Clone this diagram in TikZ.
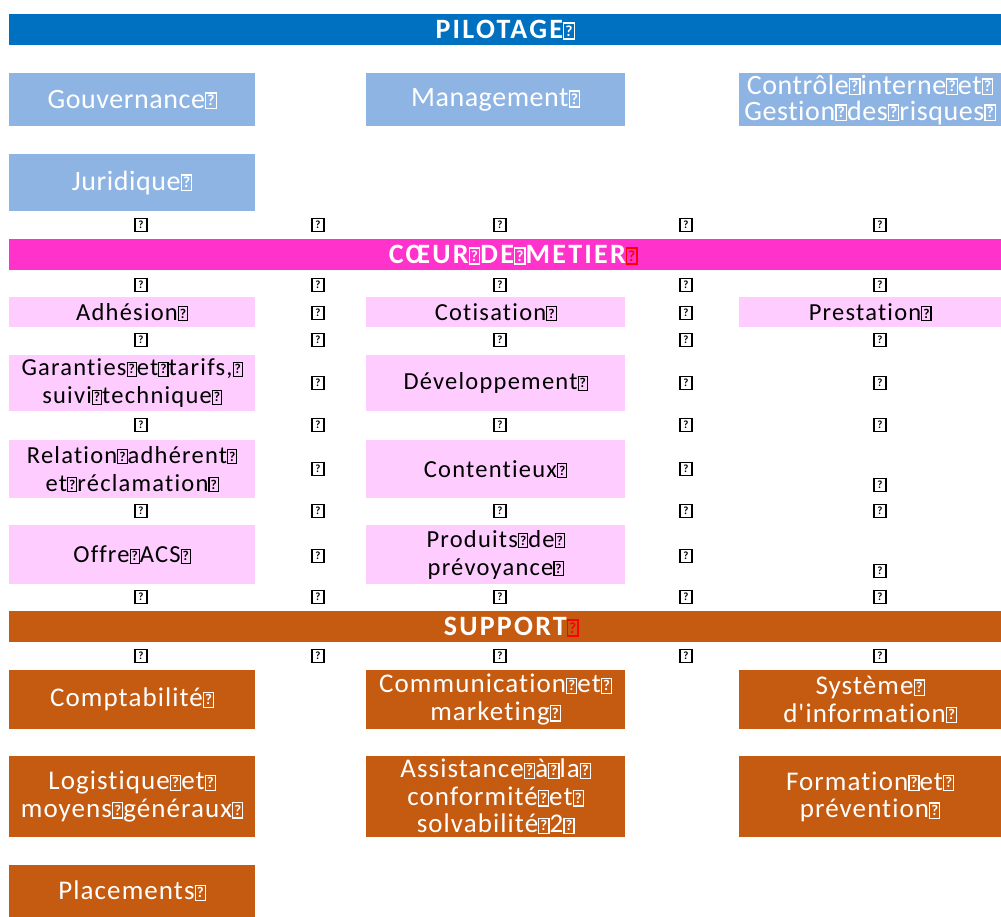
\documentclass[tikz,border=0pt]{standalone}
\usepackage{fontspec}
\setmainfont[Ligatures=NoCommon]{Carlito}
\newfontfamily\lsfont[LetterSpace=2,Ligatures=NoCommon]{Carlito}
\newfontfamily\lmfont[LetterSpace=5,Ligatures=NoCommon]{Carlito}
\newfontfamily\lbfont[LetterSpace=4,Ligatures=NoCommon]{Carlito}
\newfontfamily\lhfont[LetterSpace=8,Ligatures=NoCommon]{Carlito}
\usepackage{xcolor}
\usepackage{tikz}
\definecolor{pblue}{HTML}{0070C0}
\definecolor{plight}{HTML}{8EB4E3}
\definecolor{cmag}{HTML}{FF33CC}
\definecolor{cpink}{HTML}{FFCCFF}
\definecolor{sorange}{HTML}{C55A11}
% missing-glyph box as printed in the picture
\newcommand\qb{{\fboxsep=0pt\fboxrule=.045em\fbox{\rule{0pt}{.52em}\makebox[.33em]{\raisebox{.08em}{\scalebox{.55}{\bfseries ?}}}}}}

\tikzset{
  cell/.style={anchor=north west,inner sep=0pt,align=center},
  bar/.style={cell,minimum width=992pt,minimum height=31pt,text=white,
              font=\lhfont\fontsize{28}{28}\selectfont\bfseries},
  pbox/.style={cell,fill=plight,text=white,font=\lsfont\fontsize{28}{26}\selectfont},
  cbox/.style={cell,fill=cpink,text=black,font=\lmfont\fontsize{24.5}{28}\selectfont},
  sbox/.style={cell,fill=sorange,text=white,font=\lbfont\fontsize{27}{27.5}\selectfont},
  qmark/.style={draw=black,line width=1.4pt,minimum width=12pt,minimum height=13pt,
                inner sep=0pt,font=\fontsize{11}{11}\selectfont\bfseries}
}

\begin{document}
\begin{tikzpicture}[x=1pt,y=-1pt]
\useasboundingbox (0,0) rectangle (1001,917);

% PILOTAGE
\node[bar,fill=pblue] (pil) at (9,14) {PILOTAGE\qb};
\node[pbox,minimum width=246pt,minimum height=53pt] (gouv) at (9,73) {Gouvernance\qb};
\node[pbox,minimum width=259pt,minimum height=53pt] (mgmt) at (366,73) {Management\qb};
\node[pbox,minimum width=262pt,minimum height=53pt] (ctrl) at (739,73)
  {Contrôle\qb interne\qb et\qb\\Gestion\qb des\qb risques\qb};
\node[pbox,minimum width=246pt,minimum height=57pt] (jur) at (9,154) {Juridique\qb};

% COEUR DE METIER
\node[bar,fill=cmag] (coeur) at (9,239) {\hspace*{16pt}CŒUR\qb DE\qb METIER{\color{red}\qb}};
\node[cbox,minimum width=246pt,minimum height=30pt] (adh) at (9,297) {Adhésion\qb};
\node[cbox,minimum width=259pt,minimum height=30pt] (cotis) at (366,297) {Cotisation\qb};
\node[cbox,minimum width=262pt,minimum height=30pt] (prest) at (739,297) {Prestation\qb};
\node[cbox,minimum width=246pt,minimum height=56pt] (gar) at (9,355)
  {Garanties\qb et\qb tarifs,\qb\\suivi\qb technique\qb};
\node[cbox,minimum width=259pt,minimum height=56pt] (dev) at (366,355) {Développement\qb};
\node[cbox,minimum width=246pt,minimum height=58pt] (rel) at (9,440)
  {Relation\qb adhérent\qb\\et\qb réclamation\qb};
\node[cbox,minimum width=259pt,minimum height=58pt] (cont) at (366,440) {Contentieux\qb};
\node[cbox,minimum width=246pt,minimum height=59pt] (acs) at (9,525) {Offre\qb ACS\qb};
\node[cbox,minimum width=259pt,minimum height=59pt] (prev) at (366,525)
  {Produits\qb de\qb\\prévoyance\qb};

% SUPPORT
\node[bar,fill=sorange] (supp) at (9,611) {\hspace*{12pt}SUPPORT{\color{red}\qb}};
\node[sbox,minimum width=246pt,minimum height=59pt] (compta) at (9,670) {Comptabilité\qb};
\node[sbox,minimum width=259pt,minimum height=59pt] (comm) at (366,670)
  {Communication\qb et\qb\\marketing\qb};
\node[sbox,minimum width=262pt,minimum height=59pt] (si) at (739,670)
  {Système\qb\\d'information\qb};
\node[sbox,minimum width=246pt,minimum height=81pt] (logi) at (9,756)
  {Logistique\qb et\qb\\moyens\qb généraux\qb};
\node[sbox,minimum width=259pt,minimum height=81pt] (assist) at (366,756)
  {Assistance\qb à\qb la\qb\\conformité\qb et\qb\\solvabilité\qb 2\qb};
\node[sbox,minimum width=262pt,minimum height=81pt] (form) at (739,756)
  {Formation\qb et\qb\\prévention\qb};
\node[sbox,minimum width=246pt,minimum height=52pt] (plac) at (9,865) {Placements\qb};

% empty cells
\foreach \x [count=\i] in {141,318,500,686,880}
  \foreach \y [count=\j] in {225,285,340,425,511,597,656}
    \node[qmark] (q\i-\j) at (\x,\y) {?};
\foreach \x/\y [count=\k] in {318/313,686/313,318/383,686/383,880/383,318/469,
                              686/469,880/485,318/556,686/556,880/571}
  \node[qmark] (e\k) at (\x,\y) {?};
\end{tikzpicture}
\end{document}
